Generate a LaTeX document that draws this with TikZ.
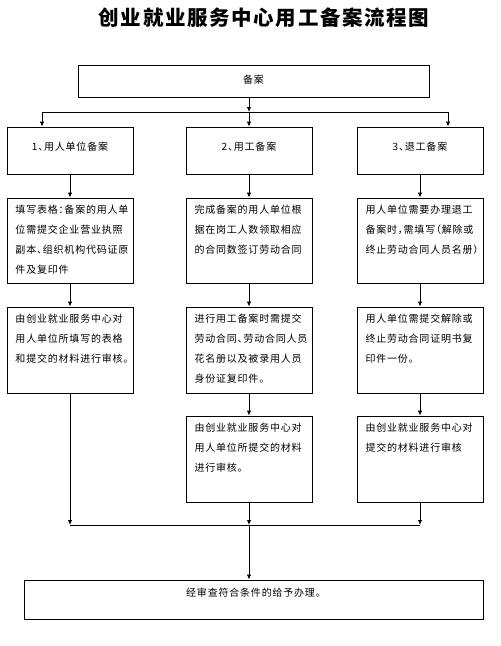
\documentclass[tikz,border=0pt]{standalone}
\usepackage{fontspec}
\setmainfont{Noto Sans CJK SC}[LetterSpace=8, RawFeature=+halt]
\usetikzlibrary{arrows.meta}
\begin{document}
        \begin{tikzpicture}[
            x=1pt, y=-1pt,
            stepbox/.style = {draw=black, line width=0.9pt, inner sep=0pt, font=\fontsize{10pt}{20pt}\selectfont},
            headbox/.style = {stepbox, minimum width=126pt, align=center, text height=23.8pt, text depth=23.2pt},
            bodybox/.style = {stepbox, text width=109pt, inner xsep=8.5pt, align=left, text height=15.8pt},
            arr/.style     = {black, line width=0.9pt, -{Latex[length=5pt, width=4.5pt]}},
            link/.style    = {black, line width=0.9pt}
        ]
            \useasboundingbox (0,0) rectangle (501,646);

            \node[font=\fontsize{20.5pt}{24pt}\selectfont\bfseries] (title) at (264,18) {创业就业服务中心用工备案流程图};

            \node[stepbox, minimum width=351pt, text height=18.8pt, text depth=13.2pt] (beian) at (253.5,81) {备案};

            \begin{scope}
                \node[headbox] (u1) at (70,150.5)  {1、用人单位备案};
                \node[headbox] (m1) at (249,150.5) {2、用工备案};
                \node[headbox] (r1) at (420,150.5) {3、退工备案};
            \end{scope}

            \begin{scope}[every node/.append style={text depth=69.2pt}]
                \node[bodybox] (u2) at (70,240.5)  {填写表格：备案的用人单\\位需提交企业营业执照\\副本、组织机构代码证原\\件及复印件};
                \node[bodybox] (m2) at (249,240.5) {完成备案的用人单位根\\据在岗工人数领取相应\\的合同数签订劳动合同};
                \node[bodybox] (r2) at (420,240.5) {用人单位需要办理退工\\备案时，需填写（解除或\\终止劳动合同人员名册）};
            \end{scope}

            \begin{scope}[every node/.append style={text depth=70.2pt}]
                \node[bodybox] (u3) at (70,350)  {由创业就业服务中心对\\用人单位所填写的表格\\和提交的材料进行审核。};
                \node[bodybox] (m3) at (249,350) {进行用工备案时需提交\\劳动合同、劳动合同人员\\花名册以及被录用人员\\身份证复印件。};
                \node[bodybox] (r3) at (420,350) {用人单位需提交解除或\\终止劳动合同证明书复\\印件一份。};

                \node[bodybox] (m4) at (249,459) {由创业就业服务中心对\\用人单位所提交的材料\\进行审核。};
                \node[bodybox] (r4) at (420,459) {由创业就业服务中心对\\提交的材料进行审核};
            \end{scope}

            \node[stepbox, minimum width=459pt, text height=16.8pt, text depth=22.2pt] (done) at (253.5,599.5) {经审查符合条件的给予办理。};

            \coordinate (sl) at (42,112);
            \coordinate (sm) at (249,112);
            \coordinate (sr) at (448,112);
            \coordinate (jl) at (70,525);
            \coordinate (jm) at (249,525);
            \coordinate (jr) at (420,525);

            \draw[arr] (beian.south -| sm) -- (sm);
            \draw[link] (sl) -- (sr);
            \draw[arr] (sl) -- (sl |- u1.north);
            \draw[arr] (sm) -- (m1.north);
            \draw[arr] (sr) -- (sr |- r1.north);

            \foreach \c in {u,m,r} {
                \draw[arr] (\c1.south) -- (\c2.north);
                \draw[arr] (\c2.south) -- (\c3.north);
            }
            \draw[arr] (m3.south) -- (m4.north);
            \draw[arr] (r3.south) -- (r4.north);

            \draw[arr] (u3.south) -- (jl);
            \draw[arr] (m4.south) -- (jm);
            \draw[arr] (r4.south) -- (jr);
            \draw[link] (jl) -- (jr);
            \draw[arr] (jm) -- (jm |- done.north);
        \end{tikzpicture}
\end{document}
